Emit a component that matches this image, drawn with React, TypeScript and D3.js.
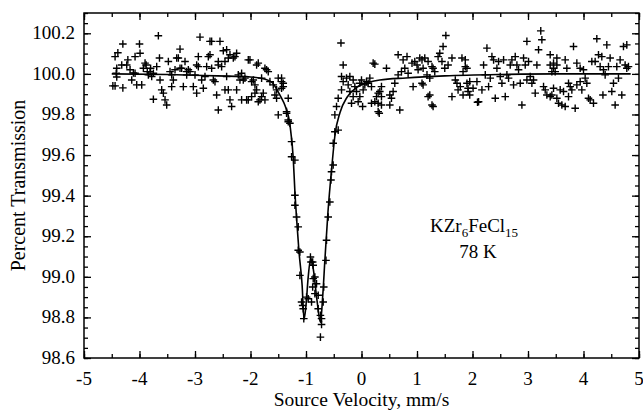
import React, { useEffect, useRef } from "react";
import * as d3 from "d3";

// velocity (mm/s), percent transmission
const measured: [number, number][] = [
  [-4.48, 99.941], [-4.44, 99.941], [-4.41, 100.028], [-4.39, 100.104], [-4.3, 100.147], [-4.41, 99.985],
  [-4.3, 99.931], [-4.32, 100.044], [-4.23, 100.044], [-4.21, 100.069], [-4.17, 100.02], [-4.14, 99.97],
  [-4.11, 100.005], [-4.08, 100.085], [-4.0, 100.147], [-3.99, 100.102], [-4.05, 99.946], [-3.96, 99.946],
  [-3.93, 100.028], [-3.88, 100.044], [-3.84, 99.995], [-3.81, 100.011], [-3.78, 99.987], [-3.75, 99.875],
  [-3.69, 100.036], [-3.66, 100.188], [-3.64, 100.078], [-3.63, 99.97], [-3.6, 99.921], [-3.57, 99.905],
  [-3.54, 99.872], [-3.51, 99.847], [-3.48, 100.061], [-3.45, 100.011], [-3.42, 99.937], [-3.39, 99.97],
  [-3.36, 100.02], [-3.33, 100.078], [-3.27, 100.122], [-3.24, 100.028], [-3.21, 99.937], [-3.18, 100.061],
  [-3.15, 99.995], [-3.12, 100.02], [-3.09, 100.011], [-3.03, 99.937], [-3.0, 99.995], [-2.97, 99.905],
  [-2.94, 100.085], [-2.91, 100.181], [-2.88, 99.97], [-2.85, 99.929], [-2.82, 99.987], [-2.79, 100.036],
  [-2.76, 100.085], [-2.73, 100.16], [-2.67, 99.97], [-2.61, 99.896], [-2.58, 99.822],
  [-4.44, 100.085], [-4.42, 100.003], [-4.08, 100.003], [-3.9, 100.053], [-3.86, 100.011], [-3.8, 100.028],
  [-3.75, 100.003], [-3.42, 99.995], [-3.3, 100.078], [-3.27, 100.028], [-3.15, 100.011], [-2.97, 100.044],
  [-2.94, 100.036], [-2.7, 100.028], [-2.64, 99.962], [-2.73, 100.094], [-2.7, 100.16],
  [-2.55, 100.16], [-2.49, 100.114], [-2.43, 100.119], [-2.58, 100.061], [-2.4, 100.078], [-2.28, 100.085],
  [-2.25, 100.102], [-2.58, 100.044], [-2.46, 99.921], [-2.4, 99.921], [-2.37, 99.872], [-2.34, 99.839],
  [-2.25, 99.921], [-2.22, 99.995], [-2.16, 100.003], [-2.1, 99.979], [-2.04, 100.069], [-1.89, 100.044],
  [-1.74, 100.028], [-1.68, 100.011], [-1.98, 99.962], [-1.92, 99.946], [-1.8, 99.979], [-2.04, 99.872],
  [-1.98, 99.888], [-1.92, 99.905], [-1.86, 99.863], [-1.8, 99.888], [-1.74, 99.872], [-1.65, 99.962],
  [-1.59, 99.946], [-1.53, 99.921], [-1.5, 99.979], [-1.44, 99.962], [-1.41, 99.937], [-1.56, 99.896],
  [-1.53, 99.88], [-1.5, 99.798], [-1.35, 99.806], [-1.32, 99.764],
  [-2.07, 99.872], [-2.19, 99.97], [-2.13, 99.97], [-2.16, 99.872], [-1.95, 99.97], [-1.89, 99.921],
  [-1.83, 99.872], [-1.77, 99.905], [-1.71, 100.02], [-2.01, 100.069], [-1.86, 100.053], [-2.43, 99.987],
  [-2.52, 100.036], [-2.46, 100.061], [-2.37, 100.094], [-2.31, 100.078],
  [-1.44, 99.979], [-1.41, 99.954], [-1.44, 99.929], [-1.32, 99.88], [-1.35, 99.814], [-1.32, 99.773],
  [-1.29, 99.757], [-1.26, 99.666], [-1.26, 99.592], [-1.2, 99.575], [-1.2, 99.402], [-1.2, 99.353],
  [-1.17, 99.295], [-1.14, 99.246], [-1.14, 99.131], [-1.11, 99.122], [-1.11, 99.007], [-1.08, 98.876],
  [-1.06, 98.859], [-1.05, 98.843], [-1.04, 98.794], [-0.99, 98.9], [-0.96, 98.892], [-0.92, 99.098],
  [-0.91, 99.073], [-0.88, 99.073], [-0.87, 99.057], [-0.87, 98.991], [-0.84, 98.999], [-0.84, 98.917],
  [-0.88, 98.95], [-0.81, 98.966], [-0.9, 98.876], [-0.78, 98.909], [-0.78, 98.843], [-0.74, 98.81],
  [-0.72, 98.794], [-0.72, 98.765], [-0.74, 98.703], [-0.69, 98.876], [-0.68, 98.95], [-0.64, 99.081],
  [-0.63, 99.18], [-0.6, 99.295], [-0.57, 99.369], [-0.55, 99.477], [-0.54, 99.518], [-0.51, 99.551],
  [-0.51, 99.658], [-0.48, 99.715], [-0.42, 99.723], [-0.48, 99.798], [-0.45, 99.839], [-0.42, 99.88],
  [-0.36, 99.921], [-0.33, 99.962], [-0.36, 99.987], [-0.33, 100.044], [-0.37, 100.152], [-0.27, 99.979],
  [-0.21, 99.987], [-0.24, 99.946], [-0.21, 99.913], [-0.15, 99.97], [-0.12, 99.937], [-0.09, 99.913],
  [-0.06, 99.863], [-0.03, 99.954], [0.0, 99.97], [0.03, 99.921], [0.06, 99.946], [0.09, 99.962],
  [0.12, 99.954], [0.15, 99.979], [0.18, 99.855], [0.21, 100.053], [0.24, 99.863], [0.27, 99.888],
  [0.3, 99.814], [0.33, 99.913], [0.18, 99.937], [0.02, 99.839], [-0.03, 99.888], [-0.15, 99.888],
  [-0.18, 99.855],
  [0.24, 100.048], [0.45, 100.028], [0.36, 99.937], [0.3, 99.905], [0.36, 99.888], [0.3, 99.855],
  [0.36, 99.847], [0.32, 99.806], [0.51, 99.896], [0.54, 99.88], [0.51, 99.847], [0.6, 99.954],
  [0.57, 99.913], [0.69, 99.822], [0.66, 100.094], [0.82, 100.085], [0.75, 100.069], [0.78, 100.028],
  [0.72, 100.011], [0.66, 99.995], [0.84, 100.003], [0.91, 100.053], [0.96, 100.061], [1.0, 100.044],
  [1.05, 100.078], [1.09, 100.069], [1.02, 100.02], [1.11, 100.028], [1.14, 100.078], [1.2, 100.061],
  [1.27, 100.036], [1.18, 99.995], [1.23, 99.979], [0.93, 99.937], [1.09, 99.954], [1.11, 99.946],
  [1.23, 99.896], [1.27, 99.847], [1.29, 100.028], [1.32, 100.011], [1.38, 100.085], [1.41, 100.102],
  [1.47, 100.135], [1.52, 100.189], [1.45, 100.061], [1.5, 100.028], [1.56, 100.044], [1.63, 100.078],
  [1.69, 99.97], [1.72, 99.954], [1.63, 99.888], [1.74, 99.921], [1.78, 99.937], [1.81, 100.078],
  [1.83, 100.011], [1.87, 100.036], [1.9, 99.954], [1.83, 99.896], [1.92, 99.913], [1.2, 99.888],
  [1.29, 99.839],
  [1.87, 100.069], [1.9, 100.028], [1.95, 99.962], [1.92, 99.929], [1.95, 99.896], [2.01, 99.929],
  [2.08, 99.962], [2.11, 99.863], [2.09, 99.86], [2.17, 99.921], [2.2, 100.044], [2.26, 100.127],
  [2.23, 99.995], [2.29, 99.937], [2.32, 99.979], [2.35, 100.085], [2.38, 100.069], [2.41, 99.88],
  [2.44, 100.028], [2.47, 100.061], [2.5, 99.987], [2.53, 99.954], [2.56, 100.069], [2.59, 99.888],
  [2.62, 99.995], [2.65, 99.979], [2.68, 100.044], [2.71, 100.069], [2.74, 99.946], [2.77, 100.085],
  [2.8, 100.044], [2.83, 100.02], [2.86, 99.954], [2.89, 99.847], [2.92, 100.078], [2.95, 100.044],
  [2.98, 99.97], [3.01, 100.061], [3.04, 99.987], [3.07, 99.954], [3.1, 99.97], [3.13, 99.905],
  [3.16, 100.044], [3.19, 100.119], [2.98, 100.16], [3.25, 100.168], [3.23, 100.212], [3.28, 99.937],
  [3.31, 99.921], [3.34, 99.896], [3.4, 99.888], [3.43, 100.011], [3.46, 100.053],
  [3.4, 100.094], [3.4, 100.044], [3.46, 100.028], [3.52, 100.044], [3.49, 100.011], [3.46, 99.929],
  [3.43, 99.896], [3.52, 99.88], [3.55, 99.855], [3.61, 99.847], [3.67, 99.839], [3.58, 99.921],
  [3.67, 100.069], [3.7, 100.028], [3.73, 99.954], [3.76, 99.937], [3.82, 100.135], [3.85, 99.831],
  [3.79, 99.921], [3.88, 100.053], [3.88, 99.946], [3.94, 99.962], [3.97, 99.921], [3.94, 100.028],
  [4.0, 100.02], [4.03, 99.979], [4.06, 99.954], [4.09, 99.88], [4.12, 99.872], [4.15, 100.061],
  [4.18, 99.855], [4.21, 100.061], [4.24, 100.173], [4.27, 100.094], [4.3, 100.036], [4.33, 100.085],
  [4.35, 99.896], [4.36, 100.02], [4.39, 99.995], [4.42, 100.143], [4.45, 100.036], [4.48, 100.078],
  [4.51, 99.913], [4.54, 99.954], [4.57, 99.847], [4.6, 100.036], [4.63, 99.979], [4.66, 100.069],
  [4.69, 99.896], [4.72, 100.135], [4.75, 100.044], [4.78, 100.143], [4.81, 100.036], [4.78, 100.028],
  [3.52, 100.078], [3.73, 99.888], [3.64, 99.913],
];

// fitted curve
const fitVelocity = [
  -4.5, -3.5, -2.6, -2.0, -1.75, -1.6, -1.52, -1.45, -1.38, -1.29, -1.23, -1.2, -1.16, -1.125, -1.07,
  -1.036, -1.0, -0.96, -0.915, -0.87, -0.8, -0.74, -0.7, -0.658, -0.604, -0.532, -0.477, -0.387, -0.26,
  -0.08, 0.15, 0.33, 0.8, 1.5, 2.5, 3.5, 4.85,
];
const fitTransmission = [
  100.0, 99.997, 99.99, 99.985, 99.975, 99.955, 99.92, 99.885, 99.845, 99.75, 99.585, 99.42, 99.25,
  99.12, 98.96, 98.79, 98.86, 99.0, 99.09, 99.04, 98.88, 98.775, 98.9, 99.09, 99.32, 99.55, 99.7,
  99.81, 99.885, 99.935, 99.96, 99.97, 99.98, 99.99, 99.997, 100.0, 100.0,
];

const xTicks = [-5, -4, -3, -2, -1, 0, 1, 2, 3, 4, 5];
const yTicks = [98.6, 98.8, 99.0, 99.2, 99.4, 99.6, 99.8, 100.0, 100.2];

const FONT = "'Liberation Serif', 'Times New Roman', serif";

const App = () => {
  const ref = useRef<SVGSVGElement>(null);

  useEffect(() => {
    const svg = d3.select(ref.current);
    svg.selectAll("*").remove();

    const left = 84, right = 639, top = 13, bottom = 358;
    const x = d3.scaleLinear().domain([-5, 5]).range([left, right]);
    const y = d3.scaleLinear().domain([98.6, 100.3]).range([bottom, top]);

    const xMinor = d3.range(-5, 5.01, 0.5);
    const yMinor = d3.range(98.6, 100.31, 0.05);

    const axisStyle = (g: any) => {
      g.select(".domain").remove();
      g.selectAll("line").attr("stroke", "#000").attr("stroke-width", 1.3);
    };

    // inward ticks on all four sides
    const addAxis = (axis: any, transform: string, size: number, vals: number[]) => {
      svg.append("g").attr("transform", transform)
        .call(axis.tickValues(vals).tickSize(size).tickSizeOuter(0).tickFormat(() => ""))
        .call(axisStyle);
    };
    addAxis(d3.axisBottom(x), `translate(0,${bottom})`, -7, xTicks);
    addAxis(d3.axisBottom(x), `translate(0,${bottom})`, -4, xMinor);
    addAxis(d3.axisTop(x), `translate(0,${top})`, -7, xTicks);
    addAxis(d3.axisTop(x), `translate(0,${top})`, -4, xMinor);
    addAxis(d3.axisLeft(y), `translate(${left},0)`, -7, yTicks);
    addAxis(d3.axisLeft(y), `translate(${left},0)`, -4, yMinor);
    addAxis(d3.axisRight(y), `translate(${right},0)`, -7, yTicks);
    addAxis(d3.axisRight(y), `translate(${right},0)`, -4, yMinor);

    svg.append("rect")
      .attr("x", left).attr("y", top)
      .attr("width", right - left).attr("height", bottom - top)
      .attr("fill", "none").attr("stroke", "#000").attr("stroke-width", 1.5);

    // tick labels
    svg.append("g").selectAll("text").data(xTicks).enter().append("text")
      .attr("x", (d) => x(d)).attr("y", bottom + 27)
      .attr("text-anchor", "middle")
      .style("font-family", FONT).style("font-size", "19px")
      .text((d) => String(d));

    svg.append("g").selectAll("text").data(yTicks).enter().append("text")
      .attr("x", left - 9).attr("y", (d) => y(d) + 6)
      .attr("text-anchor", "end")
      .style("font-family", FONT).style("font-size", "19px")
      .text((d) => d.toFixed(1));

    // axis titles
    svg.append("text")
      .attr("x", (left + right) / 2).attr("y", 406)
      .attr("text-anchor", "middle")
      .style("font-family", FONT).style("font-size", "19.5px")
      .text("Source Velocity, mm/s");

    svg.append("text")
      .attr("transform", `translate(25,${(top + bottom) / 2}) rotate(-90)`)
      .attr("text-anchor", "middle")
      .style("font-family", FONT).style("font-size", "20px")
      .text("Percent Transmission");

    // fit line
    const fit = fitVelocity.map((v, i) => [v, fitTransmission[i]] as [number, number]);
    const line = d3.line<[number, number]>()
      .x((d) => x(d[0]))
      .y((d) => y(d[1]))
      .curve(d3.curveMonotoneX);
    svg.append("path").datum(fit)
      .attr("fill", "none").attr("stroke", "#000").attr("stroke-width", 1.6)
      .attr("d", line);

    // data points as crosses
    const s = 3.8;
    svg.append("g").selectAll("path").data(measured).enter().append("path")
      .attr("d", (d) => {
        const px = x(d[0]), py = y(d[1]);
        return `M${px - s},${py}H${px + s}M${px},${py - s}V${py + s}`;
      })
      .attr("stroke", "#000").attr("stroke-width", 1.4).attr("fill", "none");

    // sample label
    const label = svg.append("text")
      .attr("x", 430).attr("y", 232)
      .style("font-family", FONT).style("font-size", "19px");
    label.append("tspan").text("KZr");
    label.append("tspan").attr("dy", 5).style("font-size", "13px").text("6");
    label.append("tspan").attr("dy", -5).text("FeCl");
    label.append("tspan").attr("dy", 5).style("font-size", "13px").text("15");

    svg.append("text")
      .attr("x", 478).attr("y", 258).attr("text-anchor", "middle")
      .style("font-family", FONT).style("font-size", "19px")
      .text("78 K");
  }, []);

  return (
    <svg
      ref={ref}
      width={643}
      height={410}
      style={{ position: "absolute", left: 0, top: 0, background: "#fff" }}
    />
  );
};

export default App;
